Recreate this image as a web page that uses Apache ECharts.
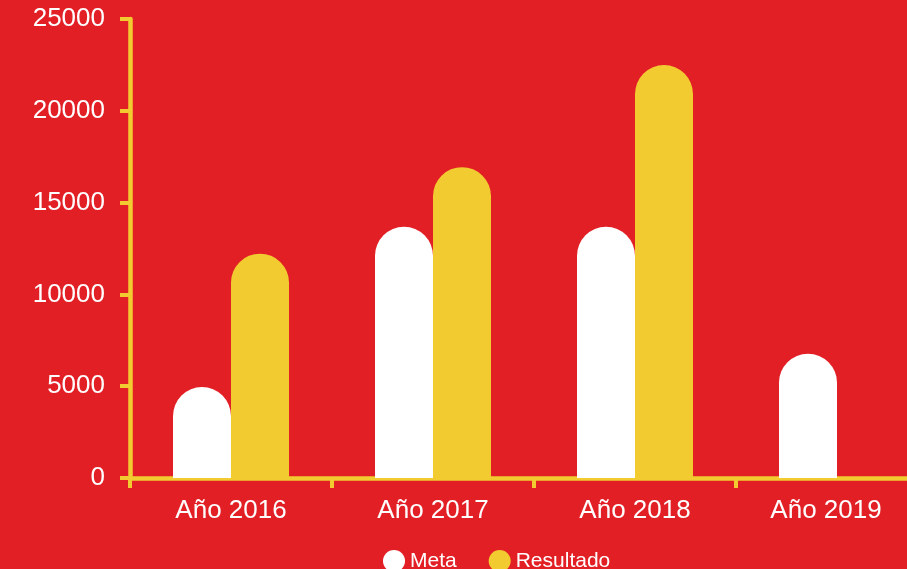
<!DOCTYPE html>
<html>
<head>
<meta charset="utf-8">
<title>Meta vs Resultado</title>
<script src="https://cdn.jsdelivr.net/npm/echarts@6/dist/echarts.min.js"></script>
<style>
  html, body { margin: 0; padding: 0; background: #e31f26; }
  #chart { width: 907px; height: 569px; }
</style>
</head>
<body>
<div id="chart"></div>
<script>
// datos
const categories = ['Año 2016', 'Año 2017', 'Año 2018', 'Año 2019'];
const metaValues = [4950, 13680, 13680, 6770];
const resultadoValues = [12220, 16930, 22490, null];
const yMin = 0;
const yMax = 25000;
const yStep = 5000;

const RED = '#e31f26';
const YELLOW = '#f2cb31';
const WHITE = '#ffffff';
const FONT = '"Liberation Sans", Arial, sans-serif';

const chart = echarts.init(document.getElementById('chart'));

// la última etiqueta va un poco a la izquierda como en el original
const xData = categories.map((c, i) => (
  i === categories.length - 1
    ? { value: c, textStyle: { padding: [0, 22, 0, 0] } }
    : c
));

chart.setOption({
  backgroundColor: RED,
  animation: false,
  grid: {
    left: 130,
    top: 19,
    width: 808,
    height: 459,
    outerBoundsMode: 'none',
    containLabel: false,
  },
  legend: {
    left: 378,
    top: 545,
    icon: 'circle',
    itemWidth: 22,
    itemHeight: 22,
    itemGap: 32,
    textStyle: {
      color: WHITE,
      fontSize: 21,
      fontFamily: FONT,
    },
    data: ['Meta', 'Resultado'],
  },
  xAxis: {
    type: 'category',
    data: xData,
    axisLine: { lineStyle: { color: YELLOW, width: 4.5 } },
    axisTick: { show: true, length: 10, lineStyle: { color: YELLOW, width: 4 } },
    axisLabel: {
      color: WHITE,
      fontSize: 26,
      fontFamily: FONT,
      margin: 20,
    },
    splitLine: { show: false },
  },
  yAxis: {
    type: 'value',
    min: yMin,
    max: yMax,
    interval: yStep,
    axisLine: { show: true, lineStyle: { color: YELLOW, width: 4.5 } },
    axisTick: { show: true, length: 10, lineStyle: { color: YELLOW, width: 4 } },
    axisLabel: {
      color: WHITE,
      fontSize: 26,
      fontFamily: FONT,
      margin: 25,
      formatter: (v) => String(v),
    },
    splitLine: { show: false },
  },
  series: [
    {
      name: 'Meta',
      type: 'bar',
      data: metaValues,
      barWidth: 58,
      barGap: '0%',
      itemStyle: { color: WHITE, borderRadius: [29, 29, 0, 0] },
    },
    {
      name: 'Resultado',
      type: 'bar',
      data: resultadoValues,
      barWidth: 58,
      barGap: '0%',
      itemStyle: { color: YELLOW, borderRadius: [29, 29, 0, 0] },
    },
  ],
});
</script>
</body>
</html>
